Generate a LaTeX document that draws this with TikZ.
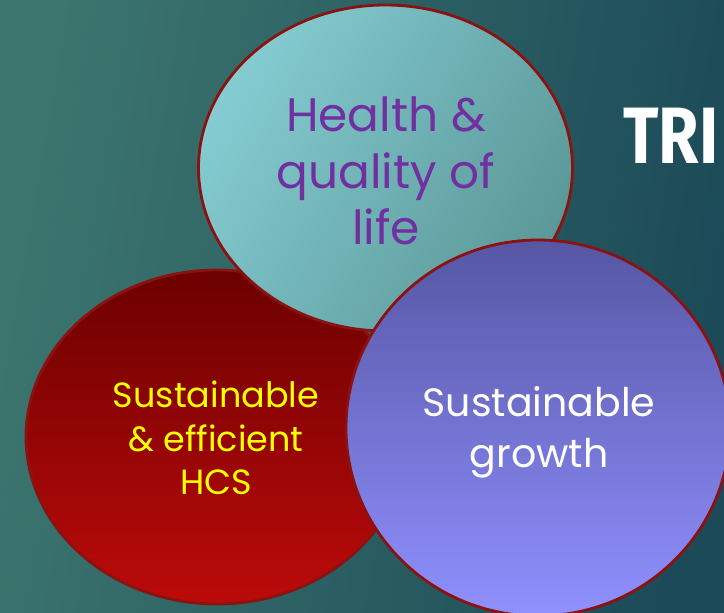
\documentclass[tikz,border=0pt]{standalone}
\usepackage{fontspec}
\setmainfont{Poppins}
\newfontfamily\trifont{Fira Sans}
\definecolor{bgL}{RGB}{60,117,110}
\definecolor{bgR}{RGB}{28,74,88}
\definecolor{cyanA}{RGB}{132,204,210}
\definecolor{cyanB}{RGB}{92,152,152}
\definecolor{redA}{RGB}{108,0,0}
\definecolor{redB}{RGB}{188,10,10}
\definecolor{purA}{RGB}{86,86,164}
\definecolor{purB}{RGB}{144,144,255}
\definecolor{rim}{RGB}{140,18,18}
\definecolor{txtpur}{RGB}{112,48,160}
\definecolor{txtyel}{RGB}{255,255,0}
\tikzset{
  rimline/.style={draw=rim, line width=2.8pt},
  toptext/.style={text=txtpur, font=\fontsize{47}{57}\selectfont, anchor=base, inner sep=0pt},
  redtext/.style={text=txtyel, font=\fontsize{35}{44}\selectfont, anchor=base, inner sep=0pt},
  purtext/.style={text=white, font=\fontsize{39.5}{51}\selectfont, anchor=base, inner sep=0pt},
}
\begin{document}
\begin{tikzpicture}[x=1pt,y=-1pt]
\useasboundingbox (0,0) rectangle (724,613);
\shade[left color=bgL, right color=bgR, shading angle=80] (0,0) rectangle (724,613);
% red circle
\shade[top color=redA, bottom color=redB] (217,437) ellipse [x radius=191, y radius=167];
\draw[rimline] (217,437) ellipse [x radius=191, y radius=167];
% top circle
\shade[left color=cyanA, right color=cyanB, shading angle=60] (385.5,168) ellipse [x radius=187, y radius=163];
\draw[rimline] (385.5,168) ellipse [x radius=187, y radius=163];
% purple circle
\shade[top color=purA, bottom color=purB] (538,428) ellipse [x radius=192, y radius=188];
\draw[rimline] (538,428) ellipse [x radius=192, y radius=188];
% texts
\node[toptext] (h1) at (386,131) {Health \&};
\node[toptext] (h2) at (386,188) {quality of};
\node[toptext] (h3) at (386,244) {life};
\node[redtext] (r1) at (216,407) {Sustainable};
\node[redtext] (r2) at (216,451) {\& efficient};
\node[redtext] (r3) at (216,494) {HCS};
\node[purtext] (p1) at (539,416) {Sustainable};
\node[purtext] (p2) at (539,467) {growth};
\node[text=white, font=\trifont\bfseries\fontsize{80}{90}\selectfont, anchor=base west, inner sep=0pt, xscale=0.82] (tri) at (623,163) {TRI};
\end{tikzpicture}
\end{document}
